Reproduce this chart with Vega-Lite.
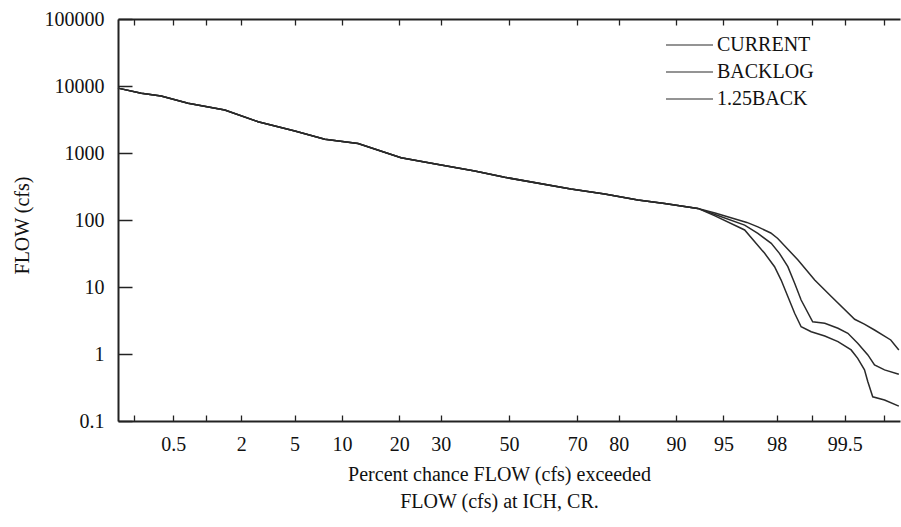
{
  "$schema": "https://vega.github.io/schema/vega-lite/v6.json",
  "width": 782,
  "height": 402,
  "autosize": {"type": "none"},
  "padding": {"left": 118, "top": 19, "right": 1, "bottom": 106},
  "background": "white",
  "config": {"view": {"stroke": null}, "font": "Liberation Serif"},
  "data": {"values": [
    {"series": "CURRENT", "exceed": 0.135, "flow": 9300},
    {"series": "CURRENT", "exceed": 0.239, "flow": 7780},
    {"series": "CURRENT", "exceed": 0.38, "flow": 7100},
    {"series": "CURRENT", "exceed": 0.69, "flow": 5520},
    {"series": "CURRENT", "exceed": 1.46, "flow": 4380},
    {"series": "CURRENT", "exceed": 2.71, "flow": 2930},
    {"series": "CURRENT", "exceed": 5.02, "flow": 2130},
    {"series": "CURRENT", "exceed": 7.88, "flow": 1600},
    {"series": "CURRENT", "exceed": 12.34, "flow": 1390},
    {"series": "CURRENT", "exceed": 20.38, "flow": 851},
    {"series": "CURRENT", "exceed": 30.12, "flow": 661},
    {"series": "CURRENT", "exceed": 39.63, "flow": 538},
    {"series": "CURRENT", "exceed": 48.68, "flow": 434},
    {"series": "CURRENT", "exceed": 68.26, "flow": 290},
    {"series": "CURRENT", "exceed": 76.85, "flow": 244},
    {"series": "CURRENT", "exceed": 83.87, "flow": 199},
    {"series": "CURRENT", "exceed": 88.38, "flow": 177},
    {"series": "CURRENT", "exceed": 92.63, "flow": 149},
    {"series": "CURRENT", "exceed": 94.3, "flow": 127},
    {"series": "CURRENT", "exceed": 96.6, "flow": 92},
    {"series": "CURRENT", "exceed": 97.19, "flow": 79},
    {"series": "CURRENT", "exceed": 97.77, "flow": 64},
    {"series": "CURRENT", "exceed": 98.04, "flow": 53},
    {"series": "CURRENT", "exceed": 98.67, "flow": 25.3},
    {"series": "CURRENT", "exceed": 99.05, "flow": 12.7},
    {"series": "CURRENT", "exceed": 99.33, "flow": 7.2},
    {"series": "CURRENT", "exceed": 99.6, "flow": 3.3},
    {"series": "CURRENT", "exceed": 99.68, "flow": 2.8},
    {"series": "CURRENT", "exceed": 99.748, "flow": 2.28},
    {"series": "CURRENT", "exceed": 99.83, "flow": 1.62},
    {"series": "CURRENT", "exceed": 99.861, "flow": 1.15},
    {"series": "BACKLOG", "exceed": 0.135, "flow": 9300},
    {"series": "BACKLOG", "exceed": 0.239, "flow": 7780},
    {"series": "BACKLOG", "exceed": 0.38, "flow": 7100},
    {"series": "BACKLOG", "exceed": 0.69, "flow": 5520},
    {"series": "BACKLOG", "exceed": 1.46, "flow": 4380},
    {"series": "BACKLOG", "exceed": 2.71, "flow": 2930},
    {"series": "BACKLOG", "exceed": 5.02, "flow": 2130},
    {"series": "BACKLOG", "exceed": 7.88, "flow": 1600},
    {"series": "BACKLOG", "exceed": 12.34, "flow": 1390},
    {"series": "BACKLOG", "exceed": 20.38, "flow": 851},
    {"series": "BACKLOG", "exceed": 30.12, "flow": 661},
    {"series": "BACKLOG", "exceed": 39.63, "flow": 538},
    {"series": "BACKLOG", "exceed": 48.68, "flow": 434},
    {"series": "BACKLOG", "exceed": 68.26, "flow": 290},
    {"series": "BACKLOG", "exceed": 76.85, "flow": 244},
    {"series": "BACKLOG", "exceed": 83.87, "flow": 199},
    {"series": "BACKLOG", "exceed": 88.38, "flow": 177},
    {"series": "BACKLOG", "exceed": 92.63, "flow": 149},
    {"series": "BACKLOG", "exceed": 94.3, "flow": 121},
    {"series": "BACKLOG", "exceed": 96.47, "flow": 84},
    {"series": "BACKLOG", "exceed": 97.19, "flow": 63},
    {"series": "BACKLOG", "exceed": 97.79, "flow": 44.9},
    {"series": "BACKLOG", "exceed": 98.1, "flow": 31.8},
    {"series": "BACKLOG", "exceed": 98.38, "flow": 20.1},
    {"series": "BACKLOG", "exceed": 98.58, "flow": 11.4},
    {"series": "BACKLOG", "exceed": 98.75, "flow": 6.4},
    {"series": "BACKLOG", "exceed": 99.01, "flow": 3.03},
    {"series": "BACKLOG", "exceed": 99.23, "flow": 2.87},
    {"series": "BACKLOG", "exceed": 99.42, "flow": 2.42},
    {"series": "BACKLOG", "exceed": 99.534, "flow": 2.04},
    {"series": "BACKLOG", "exceed": 99.627, "flow": 1.45},
    {"series": "BACKLOG", "exceed": 99.705, "flow": 0.97},
    {"series": "BACKLOG", "exceed": 99.748, "flow": 0.69},
    {"series": "BACKLOG", "exceed": 99.802, "flow": 0.58},
    {"series": "BACKLOG", "exceed": 99.861, "flow": 0.5},
    {"series": "1.25BACK", "exceed": 0.135, "flow": 9300},
    {"series": "1.25BACK", "exceed": 0.239, "flow": 7780},
    {"series": "1.25BACK", "exceed": 0.38, "flow": 7100},
    {"series": "1.25BACK", "exceed": 0.69, "flow": 5520},
    {"series": "1.25BACK", "exceed": 1.46, "flow": 4380},
    {"series": "1.25BACK", "exceed": 2.71, "flow": 2930},
    {"series": "1.25BACK", "exceed": 5.02, "flow": 2130},
    {"series": "1.25BACK", "exceed": 7.88, "flow": 1600},
    {"series": "1.25BACK", "exceed": 12.34, "flow": 1390},
    {"series": "1.25BACK", "exceed": 20.38, "flow": 851},
    {"series": "1.25BACK", "exceed": 30.12, "flow": 661},
    {"series": "1.25BACK", "exceed": 39.63, "flow": 538},
    {"series": "1.25BACK", "exceed": 48.68, "flow": 434},
    {"series": "1.25BACK", "exceed": 68.26, "flow": 290},
    {"series": "1.25BACK", "exceed": 76.85, "flow": 244},
    {"series": "1.25BACK", "exceed": 83.87, "flow": 199},
    {"series": "1.25BACK", "exceed": 88.38, "flow": 177},
    {"series": "1.25BACK", "exceed": 92.63, "flow": 149},
    {"series": "1.25BACK", "exceed": 94.3, "flow": 115},
    {"series": "1.25BACK", "exceed": 96.47, "flow": 71},
    {"series": "1.25BACK", "exceed": 97.51, "flow": 31.8},
    {"series": "1.25BACK", "exceed": 97.92, "flow": 20.1},
    {"series": "1.25BACK", "exceed": 98.16, "flow": 12.7},
    {"series": "1.25BACK", "exceed": 98.38, "flow": 7.2},
    {"series": "1.25BACK", "exceed": 98.58, "flow": 4.05},
    {"series": "1.25BACK", "exceed": 98.75, "flow": 2.55},
    {"series": "1.25BACK", "exceed": 98.98, "flow": 2.15},
    {"series": "1.25BACK", "exceed": 99.23, "flow": 1.86},
    {"series": "1.25BACK", "exceed": 99.42, "flow": 1.53},
    {"series": "1.25BACK", "exceed": 99.567, "flow": 1.15},
    {"series": "1.25BACK", "exceed": 99.627, "flow": 0.86},
    {"series": "1.25BACK", "exceed": 99.681, "flow": 0.58},
    {"series": "1.25BACK", "exceed": 99.705, "flow": 0.386},
    {"series": "1.25BACK", "exceed": 99.737, "flow": 0.23},
    {"series": "1.25BACK", "exceed": 99.802, "flow": 0.206},
    {"series": "1.25BACK", "exceed": 99.861, "flow": 0.167}
  ]},
  "transform": [{"calculate": "quantileNormal(datum.exceed / 100)", "as": "z"}],
  "resolve": {"scale": {"x": "shared"}, "axis": {"x": "independent"}},
  "layer": [
    {
      "mark": {"type": "line", "strokeWidth": 1.5, "interpolate": "linear"},
      "encoding": {
        "x": {
          "field": "z", "type": "quantitative",
          "scale": {"type": "linear", "domain": [-3, 3], "nice": false, "zero": false},
          "axis": {
            "orient": "bottom",
            "values": [-2.8782, -2.5758, -2.3263, -2.0537, -1.6449, -1.2816, -0.8416, -0.5244, 0, 0.5244, 0.8416, 1.2816, 1.6449, 2.0537, 2.3263, 2.5758, 2.8782],
            "labelExpr": "indexof([0.5,2,5,10,20,30,50,70,80,90,95,98,99.5], round(cumulativeNormal(datum.value)*1000)/10) >= 0 ? format(round(cumulativeNormal(datum.value)*1000)/10, '~g') : ''",
            "grid": false,
            "tickSize": -6, "tickColor": "#222", "tickWidth": 1.3,
            "domainColor": "#222", "domainWidth": 2,
            "labelFont": "Liberation Serif", "labelFontSize": 20, "labelColor": "#111",
            "labelPadding": 19, "labelOverlap": false, "labelFlush": false, "labelBound": false,
            "title": ["Percent chance FLOW (cfs) exceeded", "FLOW (cfs) at ICH, CR."],
            "titleFont": "Liberation Serif", "titleFontSize": 20, "titleFontWeight": "normal", "titleColor": "#111",
            "titleX": 381, "titleY": 59, "titleAlign": "center", "titleBaseline": "alphabetic", "titleLineHeight": 27
          }
        },
        "y": {
          "field": "flow", "type": "quantitative",
          "scale": {"type": "log", "domain": [0.1, 100000], "nice": false},
          "axis": {
            "values": [0.1, 1, 10, 100, 1000, 10000, 100000],
            "labelExpr": "format(datum.value, '~g')",
            "grid": false,
            "tickSize": -14, "tickColor": "#222", "tickWidth": 1.5,
            "domainColor": "#222", "domainWidth": 2,
            "labelFont": "Liberation Serif", "labelFontSize": 20, "labelColor": "#111",
            "labelPadding": 28, "labelOverlap": false, "labelFlush": false, "labelBound": false,
            "title": "FLOW (cfs)",
            "titleFont": "Liberation Serif", "titleFontSize": 20, "titleFontWeight": "normal", "titleColor": "#111",
            "titleX": -96, "titleY": 206, "titleAngle": -90, "titleAlign": "center", "titleBaseline": "middle"
          }
        },
        "color": {
          "field": "series", "type": "nominal",
          "scale": {"domain": ["CURRENT", "BACKLOG", "1.25BACK"], "range": ["#2a2a2a", "#2a2a2a", "#2a2a2a"]},
          "legend": {
            "orient": "none", "legendX": 547, "legendY": 12.5,
            "title": null, "padding": 0, "rowPadding": 0,
            "symbolType": "stroke", "symbolSize": 2209, "symbolStrokeWidth": 1.2,
            "clipHeight": 27,
            "labelFont": "Liberation Serif", "labelFontSize": 20, "labelColor": "#111", "labelOffset": 3
          }
        }
      }
    },
    {
      "mark": {"type": "point", "opacity": 0},
      "encoding": {
        "x": {
          "field": "z", "type": "quantitative",
          "axis": {
            "orient": "top",
            "values": [-2.8782, -2.5758, -2.3263, -2.0537, -1.6449, -1.2816, -0.8416, -0.5244, 0, 0.5244, 0.8416, 1.2816, 1.6449, 2.0537, 2.3263, 2.5758, 2.8782],
            "labels": false, "title": null, "grid": false,
            "tickSize": -6, "tickColor": "#222", "tickWidth": 1.3,
            "domainColor": "#222", "domainWidth": 2
          }
        }
      }
    }
  ]
}
